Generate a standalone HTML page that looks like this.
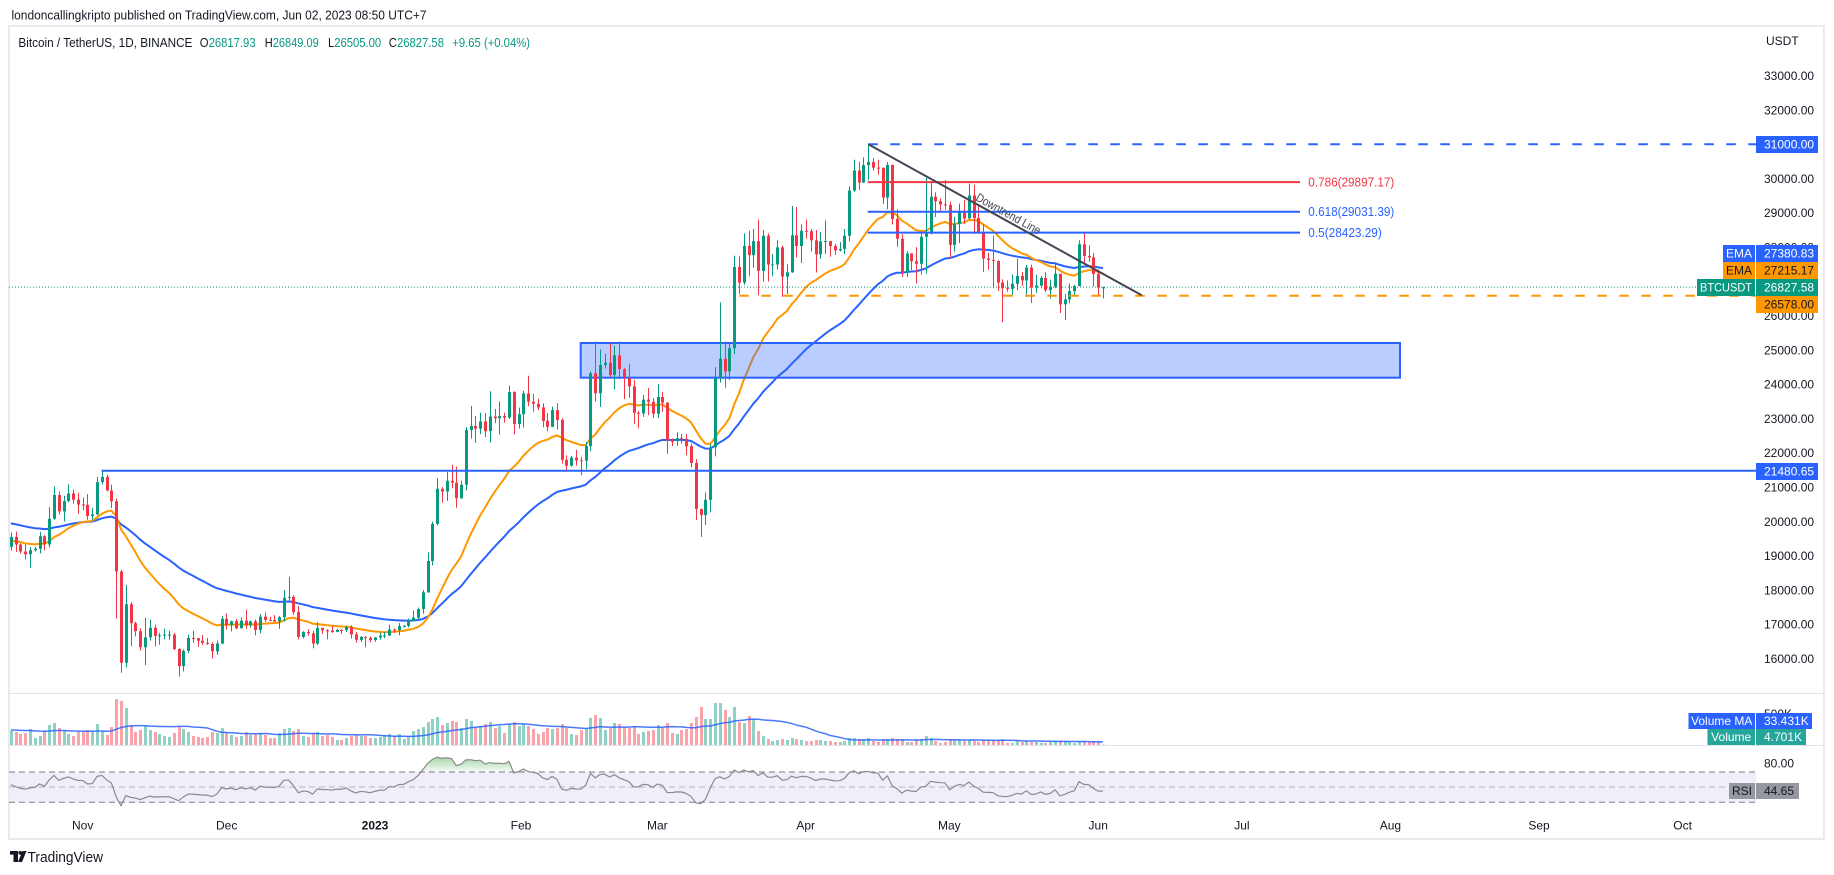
<!DOCTYPE html>
<html><head><meta charset="utf-8">
<style>
html,body{margin:0;padding:0;background:#fff;overflow:hidden;}
svg{display:block;}
text{font-family:"Liberation Sans",Arial,sans-serif;}
</style></head>
<body>
<svg id="c" width="1834" height="875" viewBox="0 0 1834 875" xmlns="http://www.w3.org/2000/svg">
<defs>
<clipPath id="cp"><rect x="9" y="27" width="1747" height="666"/></clipPath>
<clipPath id="cv"><rect x="9" y="694" width="1747" height="51"/></clipPath>
<clipPath id="cr"><rect x="9" y="746" width="1747" height="66"/></clipPath>
<clipPath id="cob"><rect x="9" y="745" width="1747" height="27"/></clipPath>
<clipPath id="cos"><rect x="9" y="802.3" width="1747" height="10"/></clipPath>
<linearGradient id="gob" gradientUnits="userSpaceOnUse" x1="0" y1="754" x2="0" y2="772"><stop offset="0" stop-color="#4caf50" stop-opacity="0.6"/><stop offset="1" stop-color="#4caf50" stop-opacity="0.05"/></linearGradient>
<linearGradient id="gos" gradientUnits="userSpaceOnUse" x1="0" y1="802" x2="0" y2="812"><stop offset="0" stop-color="#f23645" stop-opacity="0.05"/><stop offset="1" stop-color="#f23645" stop-opacity="0.5"/></linearGradient>
</defs>
<rect x="0" y="0" width="1834" height="875" fill="#fff"/>

<text x="11.5" y="19.5" font-size="13" fill="#131722" textLength="415" lengthAdjust="spacingAndGlyphs">londoncallingkripto published on TradingView.com, Jun 02, 2023 08:50 UTC+7</text>

<rect x="9" y="26" width="1815" height="813" fill="none" stroke="#e9e9ef" stroke-width="2"/>

<g font-size="13">
<text x="18.4" y="47" fill="#131722" textLength="174" lengthAdjust="spacingAndGlyphs">Bitcoin / TetherUS, 1D, BINANCE</text>
<text x="199.8" y="47" fill="#131722" textLength="55.8" lengthAdjust="spacingAndGlyphs">O<tspan fill="#089981">26817.93</tspan></text>
<text x="264.8" y="47" fill="#131722" textLength="54" lengthAdjust="spacingAndGlyphs">H<tspan fill="#089981">26849.09</tspan></text>
<text x="328" y="47" fill="#131722" textLength="53.2" lengthAdjust="spacingAndGlyphs">L<tspan fill="#089981">26505.00</tspan></text>
<text x="388.8" y="47" fill="#131722" textLength="55.2" lengthAdjust="spacingAndGlyphs">C<tspan fill="#089981">26827.58</tspan></text>
<text x="452.3" y="47" fill="#089981" textLength="77.7" lengthAdjust="spacingAndGlyphs">+9.65 (+0.04%)</text>
</g>

<line x1="9" y1="693.5" x2="1824" y2="693.5" stroke="#e0e3eb" stroke-width="1"/>
<line x1="9" y1="745.5" x2="1824" y2="745.5" stroke="#e0e3eb" stroke-width="1"/>

<rect x="9" y="772" width="1747" height="30.3" fill="#f2eef9"/>
<line x1="9" y1="772" x2="1756" y2="772" stroke="#787b86" stroke-width="1" stroke-dasharray="6,4"/>
<line x1="9" y1="787" x2="1756" y2="787" stroke="#b2b5be" stroke-width="1" stroke-dasharray="6,4"/>
<line x1="9" y1="802.3" x2="1756" y2="802.3" stroke="#787b86" stroke-width="1" stroke-dasharray="6,4"/>

<g id="dynA" clip-path="url(#cp)"></g>

<rect x="580.7" y="343" width="819.3" height="34.7" fill="#2962ff" fill-opacity="0.32" stroke="#2962ff" stroke-width="2"/>

<line x1="9" y1="287.1" x2="1697" y2="287.1" stroke="#089981" stroke-width="1" stroke-dasharray="1,2"/>

<g id="dynB"></g>

<g clip-path="url(#cp)">
<line x1="868.3" y1="144.3" x2="1756" y2="144.3" stroke="#2962ff" stroke-width="2" stroke-dasharray="9.5,12.5"/>
<line x1="739.3" y1="295.7" x2="1756" y2="295.7" stroke="#ff9800" stroke-width="2" stroke-dasharray="9.5,12.5"/>
<line x1="101.7" y1="470.7" x2="1756" y2="470.7" stroke="#2962ff" stroke-width="2"/>
<line x1="867.7" y1="182.1" x2="1300" y2="182.1" stroke="#f23645" stroke-width="2"/>
<line x1="867.7" y1="211.8" x2="1300" y2="211.8" stroke="#2962ff" stroke-width="2"/>
<line x1="867.7" y1="232.6" x2="1300" y2="232.6" stroke="#2962ff" stroke-width="2"/>
<line x1="868.3" y1="144.3" x2="1141.7" y2="295.3" stroke="#434651" stroke-width="2"/>
</g>
<g font-size="12.5">
<text x="1308.3" y="186.5" fill="#f23645" textLength="86" lengthAdjust="spacingAndGlyphs">0.786(29897.17)</text>
<text x="1308.3" y="216.2" fill="#2962ff" textLength="86" lengthAdjust="spacingAndGlyphs">0.618(29031.39)</text>
<text x="1308.3" y="237" fill="#2962ff" textLength="73.5" lengthAdjust="spacingAndGlyphs">0.5(28423.29)</text>
</g>
<text x="975" y="200" font-size="12" fill="#434651" transform="rotate(28.9 975 200)" textLength="72" lengthAdjust="spacingAndGlyphs">Downtrend Line</text>

<g font-size="12" fill="#131722">
<text x="1766" y="45">USDT</text>
<text x="1764" y="80">33000.00</text>
<text x="1764" y="114.3">32000.00</text>
<text x="1764" y="148.6">31000.00</text>
<text x="1764" y="182.9">30000.00</text>
<text x="1764" y="217.2">29000.00</text>
<text x="1764" y="251.5">28000.00</text>
<text x="1764" y="285.8">27000.00</text>
<text x="1764" y="320.1">26000.00</text>
<text x="1764" y="354.3">25000.00</text>
<text x="1764" y="388.6">24000.00</text>
<text x="1764" y="422.9">23000.00</text>
<text x="1764" y="457.2">22000.00</text>
<text x="1764" y="491.5">21000.00</text>
<text x="1764" y="525.8">20000.00</text>
<text x="1764" y="560.1">19000.00</text>
<text x="1764" y="594.4">18000.00</text>
<text x="1764" y="628.7">17000.00</text>
<text x="1764" y="663">16000.00</text>
<text x="1764" y="718">500K</text>
<text x="1764" y="767.6">80.00</text>
</g>

<g font-size="12">
<rect x="1756" y="136" width="62" height="17" fill="#2962ff"/>
<text x="1764" y="148.6" fill="#fff">31000.00</text>

<rect x="1723" y="245" width="32" height="17" fill="#2962ff"/>
<rect x="1756" y="245" width="62" height="17" fill="#2962ff"/>
<text x="1739" y="257.6" fill="#fff" text-anchor="middle">EMA</text>
<text x="1764" y="257.6" fill="#fff">27380.83</text>

<rect x="1723" y="262" width="32" height="17" fill="#ff9800"/>
<rect x="1756" y="262" width="62" height="17" fill="#ff9800"/>
<text x="1739" y="274.6" fill="#131722" text-anchor="middle">EMA</text>
<text x="1764" y="274.6" fill="#131722">27215.17</text>

<rect x="1697" y="279" width="58" height="17" fill="#089981"/>
<rect x="1756" y="279" width="62" height="17" fill="#089981"/>
<text x="1726" y="291.6" fill="#fff" text-anchor="middle" textLength="52" lengthAdjust="spacingAndGlyphs">BTCUSDT</text>
<text x="1764" y="291.6" fill="#fff">26827.58</text>

<rect x="1756" y="296" width="62" height="17" fill="#ff9800"/>
<text x="1764" y="308.6" fill="#131722">26578.00</text>

<rect x="1756" y="463" width="62" height="17" fill="#2962ff"/>
<text x="1764" y="475.6" fill="#fff">21480.65</text>

<rect x="1688.5" y="713" width="66.5" height="16" fill="#2962ff"/>
<rect x="1756" y="713" width="56" height="16" fill="#2962ff"/>
<text x="1721.7" y="725.2" fill="#fff" text-anchor="middle">Volume MA</text>
<text x="1764" y="725.2" fill="#fff">33.431K</text>

<rect x="1707.5" y="729" width="47.5" height="16" fill="#26a69a"/>
<rect x="1756" y="729" width="50" height="16" fill="#26a69a"/>
<text x="1731.2" y="741.2" fill="#fff" text-anchor="middle">Volume</text>
<text x="1764" y="741.2" fill="#fff">4.701K</text>

<rect x="1729" y="783" width="26" height="16" fill="#9598a1"/>
<rect x="1756" y="783" width="43" height="16" fill="#9598a1"/>
<text x="1742" y="795.2" fill="#131722" text-anchor="middle">RSI</text>
<text x="1764" y="795.2" fill="#131722">44.65</text>
</g>

<g font-size="12" fill="#131722" text-anchor="middle">
<text x="82.7" y="829.5">Nov</text>
<text x="226.7" y="829.5">Dec</text>
<text x="375" y="829.5" font-weight="bold">2023</text>
<text x="521" y="829.5">Feb</text>
<text x="657.3" y="829.5">Mar</text>
<text x="805.7" y="829.5">Apr</text>
<text x="949.3" y="829.5">May</text>
<text x="1098.2" y="829.5">Jun</text>
<text x="1241.9" y="829.5">Jul</text>
<text x="1390.4" y="829.5">Aug</text>
<text x="1539" y="829.5">Sep</text>
<text x="1682.6" y="829.5">Oct</text>
</g>

<g fill="#131722">
<rect x="10" y="851" width="8" height="3.6"/>
<rect x="13.5" y="851" width="4.5" height="11"/>
<circle cx="20.3" cy="852.9" r="1.9"/>
<polygon points="22.5,851 26.5,851 22,862 18,862"/>
</g>
<text x="27.5" y="862" font-size="14.5" fill="#131722" textLength="75.5" lengthAdjust="spacingAndGlyphs">TradingView</text>
</svg>
<script>
(function(){
var raw="19676,19160,19549 19706,19111,19328 19360,19070,19123 19347,18900,19042 19250,18650,19164 19257,19122,19205 19695,19070,19571 19601,19156,19331 20415,19242,20080 21020,20053,20772 20877,20200,20295 20750,20000,20595 21085,20557,20818 20930,20520,20635 20840,20220,20495 "+
"20700,20330,20486 20800,20050,20159 20394,20030,20209 21302,20180,21148 21480,21080,21300 21365,20880,20905 21070,20390,20591 20670,17166,18541 18590,15588,15880 18150,15746,17586 17650,16360,17034 17080,16650,16800 16880,16230,16330 17190,15815,16619 17135,16530,16900 16990,16360,16662 16750,16410,16680 16870,16560,16698 16815,16550,16701 16750,16250,16280 16300,15476,15781 16266,15630,16226 16700,16160,16603 16812,16460,16598 16600,16350,16522 16690,16400,16458 16600,16400,16428 16480,16001,16213 16530,16110,16442 17250,16420,17163 "+
"17320,16850,16978 17105,16790,17092 17160,16860,16885 17200,16880,17106 17425,16870,16967 17110,16900,17089 17140,16680,16836 17300,16740,17224 17350,17070,17128 17220,17090,17127 17270,17070,17085 17240,16870,17209 18000,17080,17775 18387,17660,17803 17850,17275,17356 17530,16560,16632 16800,16585,16777 16860,16670,16739 16815,16300,16438 17060,16400,16895 16900,16720,16824 16866,16560,16821 16950,16750,16778 16870,16770,16836 16860,16730,16832 16950,16780,16919 16970,16590,16706 16780,16460,16547 16660,16490,16633 16650,16330,16607 16640,16470,16542 "+
"16630,16490,16617 16760,16550,16672 16780,16600,16675 16990,16660,16850 16880,16750,16832 17040,16680,16951 16980,16910,16955 17170,16910,17092 17400,17100,17196 17490,17150,17446 18000,17310,17934 19100,17920,18847 19990,18720,19930 21260,19890,20954 21000,20550,20872 21440,20600,21186 21650,20970,21133 21600,20400,20678 21190,20660,21071 22750,20900,22667 23370,22420,22784 23080,22290,22707 23170,22550,22917 23160,22460,22633 23800,22300,23061 23280,22870,23009 23500,22530,23075 23170,22880,23031 23960,22990,23775 23800,22540,22840 23320,22710,23126 "+
"23810,22740,23733 24250,23360,23492 23720,23200,23432 23580,23250,23327 23440,22750,22932 23160,22630,22762 23350,22750,23249 23450,22680,22963 23010,21690,21797 21930,21450,21626 21910,21600,21862 22090,21630,21783 21890,21350,21773 22320,21530,22199 24380,22050,24324 25250,23500,23742 25020,23340,24566 24890,24460,24631 25190,24220,24271 25120,23850,24844 25250,24150,24442 24480,23570,24183 24600,23600,23940 24130,22850,23170 23220,22720,23150 23690,23050,23554 23890,23100,23492 23600,23020,23141 "+
"24000,23020,23629 23780,23200,23465 23480,21970,22354 22420,22200,22346 22600,22200,22430 22550,22270,22410 22550,21930,22197 22270,21580,21705 21820,20040,20363 20370,19549,20187 20850,19900,20632 22250,20270,22163 24500,21900,24197 26390,24050,24746 25250,23900,24375 25200,24120,25055 27750,24880,27423 27730,26630,26965 28400,26900,28038 28480,27150,27767 28530,27400,28175 28800,26600,27307 28500,27000,28333 28400,27000,27493 27800,27150,27494 28200,27350,27994 28040,26550,27139 27500,26630,27268 29200,27250,28348 29170,27700,28034 28660,27540,28478 "+
"28800,28250,28465 28530,27870,28200 28500,27260,27790 28440,27660,28169 28780,27800,28175 28180,27720,28033 28100,27780,27906 28150,27880,27948 28530,27800,28333 29770,28170,29653 30550,29610,30235 30490,29660,29884 30620,29870,30390 31000,29950,30485 30600,30230,30318 30550,30120,30316 30320,29260,29445 30480,29100,30397 30410,28660,28823 29100,28010,28245 28380,27130,27262 27880,27130,27816 27820,27330,27590 28000,26940,27514 28400,27200,28300 30020,27230,28422 29880,28370,29473 29600,28880,29340 29420,29050,29248 29960,29090,29233 "+
"29330,27680,28068 28880,27870,28669 29270,28120,29026 29380,28680,28838 29850,28810,29507 29820,28380,28848 29200,28390,28430 28670,27280,27668 27830,27340,27628 28330,26800,27598 27620,26720,26969 27060,25811,26804 27030,26700,26784 27200,26600,26931 27660,26740,27162 27280,26870,27030 27480,26550,27405 27490,26370,26821 27190,26670,26880 27160,26800,27102 27270,26690,26747 27050,26500,26849 27500,26800,27226 27220,26080,26334 26640,25870,26477 26940,26360,26720 26900,26560,26868 28200,26860,28085 28450,27550,27745 28050,27570,27702 27830,26850,27220 "+
"27350,26600,26817.93 26849.09,26505,26827.58";
var V=[14,13,11,12,16,7,9,14,20,22,17,15,11,9,13,
13,15,14,21,14,10,18,46,44,37,20,13,15,19,15,13,11,9,8,12,18,16,13,9,8,7,8,13,12,17,
13,10,8,9,13,10,11,12,10,7,7,12,16,17,14,16,9,8,12,13,9,10,8,5,5,7,9,10,9,9,7,
7,8,10,11,9,11,6,9,14,16,18,23,26,28,20,22,24,23,17,26,24,18,19,21,23,17,19,12,21,23,19,
21,19,16,11,13,17,16,17,21,17,11,10,15,16,27,30,27,15,17,22,21,18,17,19,11,13,14,15,
20,17,22,12,11,15,16,22,28,38,26,26,42,42,35,28,38,23,22,29,26,14,9,6,4,5,6,5,7,6,5,
4,4,5,5,4,4,3,3,4,7,7,6,6,7,4,3,6,6,7,6,6,3,3,5,6,9,7,4,2,3,
6,5,5,4,5,4,3,5,4,5,5,6,2,2,4,3,4,3,3,2,2,3,4,4,4,3,2,4,4,3,4,
4,0.4];
var rows=raw.trim().split(/\s+/).map(function(r){return r.split(',').map(Number);});
var N=rows.length,O=[],H=[],L=[],C=[],pc=19262,i;
for(i=0;i<N;i++){var c=rows[i][2];var o=pc;O.push(o);H.push(Math.max(rows[i][0],o,c));L.push(Math.min(rows[i][1],o,c));C.push(c);pc=c;}
function xi(i){return 82.7+(i-15)*4.79;}
function yp(p){return 75.7+(33000-p)*0.03429;}
function yr(r){return 787-(r-50)*0.7575;}
var e21=19420,e50=19960,E21=[],E50=[];
for(i=0;i<N;i++){e21+=(C[i]-e21)*2/22;e50+=(C[i]-e50)*2/51;E21.push(e21);E50.push(e50);}
var ag=170,al=170,pr=19262,R=[];
for(i=0;i<N;i++){var ch=C[i]-pr;var g=ch>0?ch:0,l=ch<0?-ch:0;ag=(ag*13+g)/14;al=(al*13+l)/14;R.push(100-100/(1+ag/al));pr=C[i];}
var VM=[];
for(i=0;i<N;i++){var s=0;for(var k=i-19;k<=i;k++){s+=(k>=0?(V[k]||0):15);}VM.push(s/20);}
function pts(arr,fy){var s='';for(var j=0;j<arr.length;j++){s+=xi(j).toFixed(2)+','+fy(arr[j]).toFixed(2)+' ';}return s.trim();}
var NS='http://www.w3.org/2000/svg';
function el(parent,tag,attrs){var e=document.createElementNS(NS,tag);for(var a in attrs){e.setAttribute(a,attrs[a]);}parent.appendChild(e);return e;}
var gA=document.getElementById('dynA');
el(gA,'polyline',{points:pts(E50,yp),fill:'none',stroke:'#2962ff','stroke-width':'2','stroke-linejoin':'round'});
el(gA,'polyline',{points:pts(E21,yp),fill:'none',stroke:'#ff9800','stroke-width':'2','stroke-linejoin':'round'});
var gB=document.getElementById('dynB');
var gc=el(gB,'g',{'clip-path':'url(#cp)'});
for(i=0;i<N;i++){
 var x=Math.round(xi(i));var up=C[i]>=O[i];var col=up?'#089981':'#f23645';
 var yh=yp(H[i]),yl=yp(L[i]),yt=yp(Math.max(O[i],C[i])),yb=yp(Math.min(O[i],C[i]));
 var bh=Math.max(1,yb-yt);
 el(gc,'rect',{x:x,y:yh.toFixed(2),width:1,height:(yl-yh).toFixed(2),fill:col});
 el(gc,'rect',{x:x-1,y:yt.toFixed(2),width:3,height:bh.toFixed(2),fill:col});
}
var gv=el(gB,'g',{'clip-path':'url(#cv)'});
for(i=0;i<N;i++){
 var x2=Math.round(xi(i));var up2=C[i]>=O[i];
 el(gv,'rect',{x:x2-1,y:(745-V[i]).toFixed(2),width:3,height:V[i],fill:(up2?'#089981':'#f23645'),'fill-opacity':'0.45'});
}
el(gv,'polyline',{points:pts(VM,function(v){return 745-v;}),fill:'none',stroke:'#2962ff','stroke-width':'1.5','stroke-opacity':'0.85'});
var rp=pts(R,yr);
var x0=xi(0).toFixed(2),xn=xi(N-1).toFixed(2);
var lp=' L'+rp.split(' ').join(' L');
el(gB,'path',{d:'M'+x0+',772'+lp+' L'+xn+',772 Z',fill:'url(#gob)','clip-path':'url(#cob)'});
el(gB,'path',{d:'M'+x0+',802.3'+lp+' L'+xn+',802.3 Z',fill:'url(#gos)','clip-path':'url(#cos)'});
var gr=el(gB,'g',{'clip-path':'url(#cr)'});
el(gr,'polyline',{points:rp,fill:'none',stroke:'#8a8a8a','stroke-width':'1.2','stroke-linejoin':'round'});
})();
</script>
</body></html>
